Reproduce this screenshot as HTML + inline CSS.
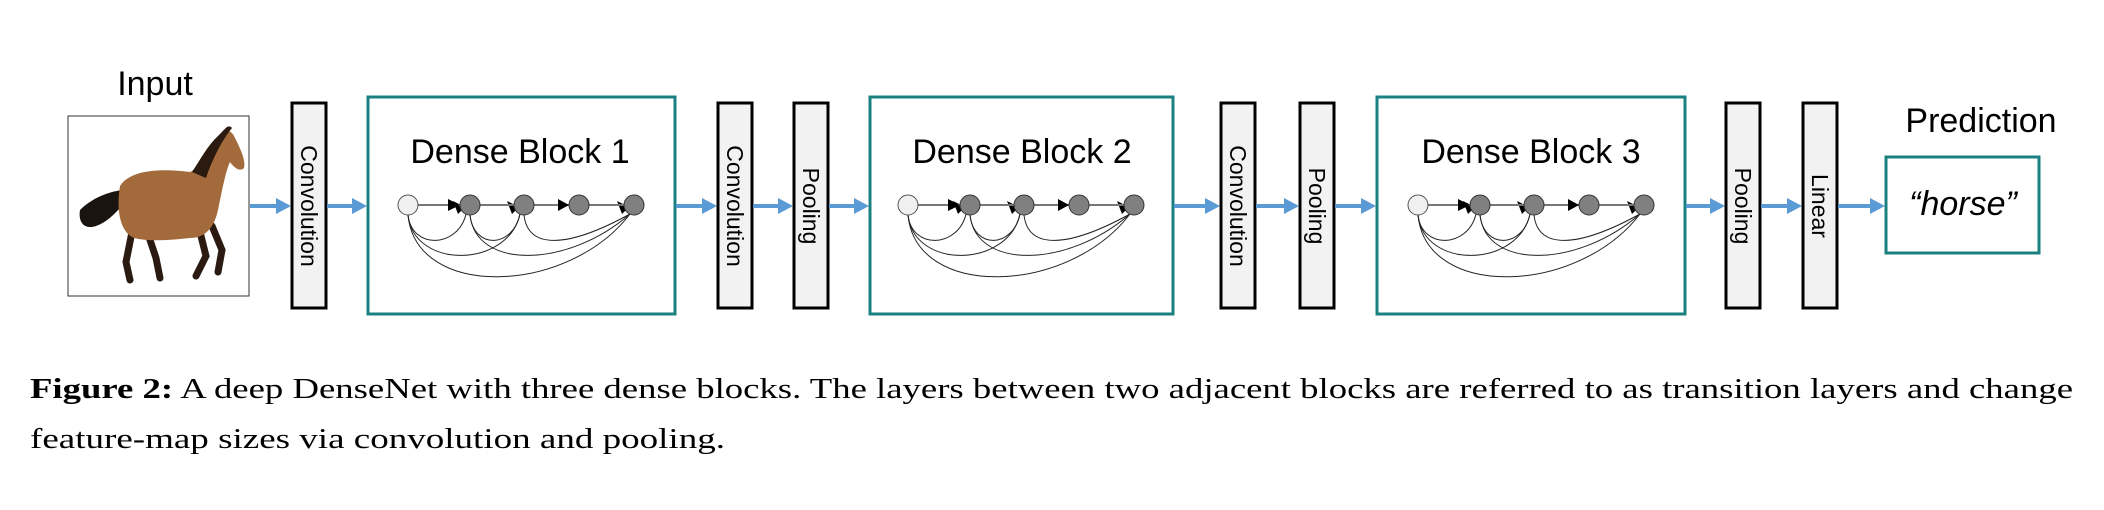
<!DOCTYPE html>
<html><head><meta charset="utf-8"><style>
html,body{margin:0;padding:0;background:#fff;}
svg{display:block;}
.sans{font-family:"Liberation Sans",Arial,sans-serif;}
.serif{font-family:"Liberation Serif","Times New Roman",serif;}
</style></head><body>
<svg width="2104" height="510" viewBox="0 0 2104 510" xmlns="http://www.w3.org/2000/svg">
<defs>
<g id="chain">
  <g fill="none" stroke="#222" stroke-width="1">
    <path d="M40,215 C44,250 90,248 98,214"/>
    <path d="M40,215 C46,270 140,268 152,214"/>
    <path d="M40,215 C48,300 200,295 262,214"/>
    <path d="M102,215 C106,250 145,248 152,214"/>
    <path d="M102,215 C108,270 200,268 262,214"/>
    <path d="M156,215 C160,250 200,248 262,214"/>
  </g>
  <g fill="#000">
    <path d="M85,201 L97,207 L90,214 Z"/>
    <path d="M139,201 L151,207 L144,214 Z"/>
    <path d="M249,201 L261,207 L254,214 Z"/>
  </g>
  <g stroke="#777" stroke-width="2">
  <line x1="50" y1="205" x2="92" y2="205"/>
  <line x1="112" y1="205" x2="146" y2="205"/>
  <line x1="166" y1="205" x2="201" y2="205"/>
  <line x1="221" y1="205" x2="256" y2="205"/>
  </g>
  <path d="M80,199 L92,205 L80,211 Z" fill="#000"/>
  <path d="M190,199 L201,205 L190,211 Z" fill="#000"/>
  <circle cx="40" cy="205" r="10" fill="#f0f0f0" stroke="#555" stroke-width="1"/>
  <circle cx="102" cy="205" r="10" fill="#808080" stroke="#333" stroke-width="1"/>
  <circle cx="156" cy="205" r="10" fill="#808080" stroke="#333" stroke-width="1"/>
  <circle cx="211" cy="205" r="10" fill="#808080" stroke="#333" stroke-width="1"/>
  <circle cx="266" cy="205" r="10" fill="#808080" stroke="#333" stroke-width="1"/>
</g>
</defs>

<g class="sans" fill="#000">
<text x="155" y="95" font-size="34" text-anchor="middle">Input</text>
<text x="1981" y="132" font-size="34" text-anchor="middle">Prediction</text>
</g>

<!-- horse image -->
<rect x="68" y="116" width="181" height="180" fill="#fff" stroke="#333" stroke-width="1"/>
<g>
  <path d="M122,190 C108,192 92,198 80,210 C78,222 84,230 96,226 C108,222 116,212 124,204 Z" fill="#1a1410"/>
  <!-- legs -->
  <g stroke="#2a1a12" stroke-width="7" stroke-linecap="round" fill="none">
    <path d="M132,232 L126,262 L130,280"/>
    <path d="M148,234 L156,258 L160,278"/>
    <path d="M200,232 L206,256 L196,276"/>
    <path d="M212,226 L222,250 L218,272"/>
  </g>
  <path d="M120,186 C130,170 160,168 190,172 C200,168 210,150 218,138 C222,130 230,128 234,136 C240,148 246,160 244,168 C240,172 234,168 230,162 C226,170 222,190 218,210 C214,228 205,238 190,238 C170,240 150,242 134,238 C120,232 116,210 120,186 Z" fill="#a36a3c"/>
  <path d="M192,172 C200,160 208,145 218,136 C226,128 228,124 232,128 C222,140 212,160 206,178 Z" fill="#2a1a10"/>
</g>

<!-- bars -->
<g fill="#f2f2f2" stroke="#000" stroke-width="3">
<rect x="292" y="103" width="34" height="205"/>
<rect x="718" y="103" width="34" height="205"/>
<rect x="794" y="103" width="34" height="205"/>
<rect x="1221" y="103" width="34" height="205"/>
<rect x="1300" y="103" width="34" height="205"/>
<rect x="1726" y="103" width="34" height="205"/>
<rect x="1803" y="103" width="34" height="205"/>
</g>
<g class="sans" font-size="23" fill="#000" text-anchor="middle">
<text transform="translate(301,206) rotate(90)">Convolution</text>
<text transform="translate(727,206) rotate(90)">Convolution</text>
<text transform="translate(803,206) rotate(90)">Pooling</text>
<text transform="translate(1230,206) rotate(90)">Convolution</text>
<text transform="translate(1309,206) rotate(90)">Pooling</text>
<text transform="translate(1735,206) rotate(90)">Pooling</text>
<text transform="translate(1812,206) rotate(90)">Linear</text>
</g>

<!-- dense blocks -->
<g fill="#fff" stroke="#1b8080" stroke-width="3">
<rect x="368" y="97" width="307" height="217"/>
<rect x="870" y="97" width="303" height="217"/>
<rect x="1377" y="97" width="308" height="217"/>
<rect x="1886" y="157" width="153" height="96"/>
</g>
<g class="sans" font-size="34" fill="#000" text-anchor="middle">
<text x="520" y="163">Dense Block 1</text>
<text x="1022" y="163">Dense Block 2</text>
<text x="1531" y="163">Dense Block 3</text>
<text x="1963" y="215" font-style="italic">“horse”</text>
</g>
<use href="#chain" x="368" y="0"/>
<use href="#chain" x="868" y="0"/>
<use href="#chain" x="1378" y="0"/>

<!-- blue arrows -->
<g stroke="#5b9bd5" stroke-width="4">
<line x1="250" y1="206" x2="280" y2="206"/>
<line x1="327" y1="206" x2="356" y2="206"/>
<line x1="676" y1="206" x2="706" y2="206"/>
<line x1="753" y1="206" x2="782" y2="206"/>
<line x1="829" y1="206" x2="858" y2="206"/>
<line x1="1174" y1="206" x2="1209" y2="206"/>
<line x1="1256" y1="206" x2="1288" y2="206"/>
<line x1="1335" y1="206" x2="1365" y2="206"/>
<line x1="1686" y1="206" x2="1714" y2="206"/>
<line x1="1761" y1="206" x2="1791" y2="206"/>
<line x1="1838" y1="206" x2="1874" y2="206"/>
</g>
<g fill="#5b9bd5">
<path d="M276,198 L291,206 L276,214 Z"/>
<path d="M352,198 L367,206 L352,214 Z"/>
<path d="M702,198 L717,206 L702,214 Z"/>
<path d="M778,198 L793,206 L778,214 Z"/>
<path d="M854,198 L869,206 L854,214 Z"/>
<path d="M1205,198 L1220,206 L1205,214 Z"/>
<path d="M1284,198 L1299,206 L1284,214 Z"/>
<path d="M1361,198 L1376,206 L1361,214 Z"/>
<path d="M1710,198 L1725,206 L1710,214 Z"/>
<path d="M1787,198 L1802,206 L1787,214 Z"/>
<path d="M1870,198 L1885,206 L1870,214 Z"/>
</g>

<!-- caption -->
<g class="serif" font-size="28" fill="#000">
<text x="30" y="398" textLength="2043" lengthAdjust="spacingAndGlyphs"><tspan font-weight="bold">Figure 2:</tspan> A deep DenseNet with three dense blocks. The layers between two adjacent blocks are referred to as transition layers and change</text>
<text x="30" y="448" textLength="695" lengthAdjust="spacingAndGlyphs">feature-map sizes via convolution and pooling.</text>
</g>
</svg>
</body></html>
